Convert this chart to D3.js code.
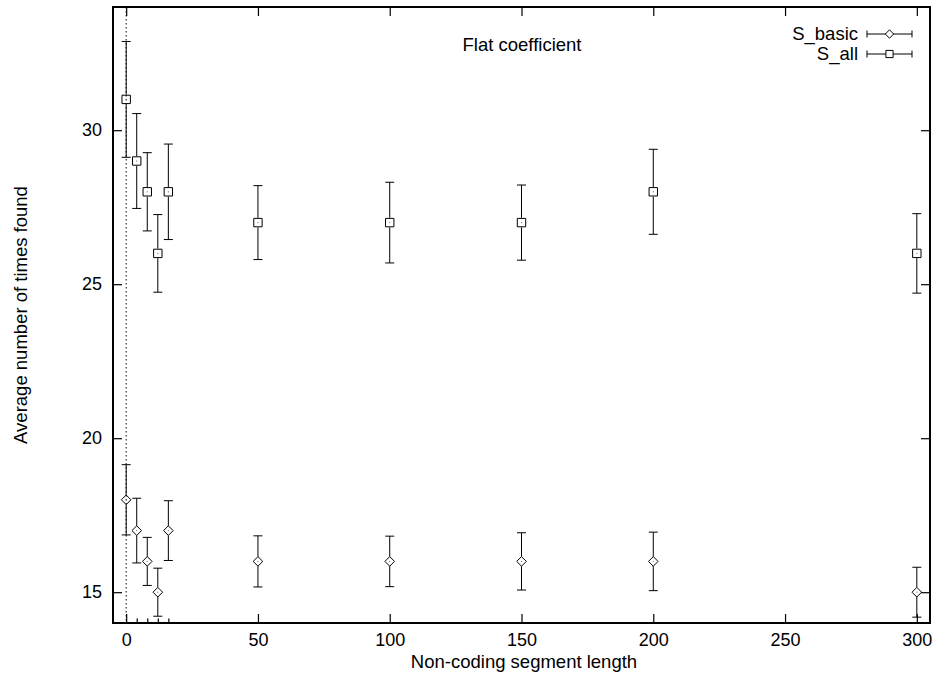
<!DOCTYPE html>
<html>
<head>
<meta charset="utf-8">
<script src="https://cdn.jsdelivr.net/npm/d3@7"></script>
<style>
    body { margin: 0; background: #fff; }
    svg text { font-family: "Liberation Sans", Arial, Helvetica, sans-serif; fill: #000; }
</style>
</head>
<body>
<div id="chart"></div>
<script>
const lengths = [0, 4, 8, 12, 16, 50, 100, 150, 200, 300];
const sBasic = [18, 17, 16, 15, 17, 16, 16, 16, 16, 15];
const sBasicErr = [1.14, 1.05, 0.78, 0.78, 0.97, 0.83, 0.82, 0.93, 0.95, 0.81];
const sAll = [31, 29, 28, 26, 28, 27, 27, 27, 28, 26];
const sAllErr = [1.88, 1.54, 1.27, 1.26, 1.55, 1.2, 1.31, 1.22, 1.38, 1.29];

const xTicks = [0, 50, 100, 150, 200, 250, 300];
const xMinorTicks = [4, 8, 12, 16];
const yTicks = [15, 20, 25, 30];

const width = 935, height = 674;
const margin = {top: 7, right: 5, bottom: 51, left: 113};
const fontSize = 18.5;
const tickFont = 18;

const svg = d3.select("#chart")
    .append("svg")
    .attr("width", width)
    .attr("height", height);

const x = d3.scaleLinear()
    .domain([-5, 305])
    .range([margin.left, width - margin.right]);

const y = d3.scaleLinear()
    .domain([14, 34])
    .range([height - margin.bottom, margin.top]);

const x0 = margin.left, x1 = width - margin.right;
const y0 = height - margin.bottom, y1 = margin.top;

svg.append("clipPath")
    .attr("id", "plot-clip")
    .append("rect")
    .attr("x", x0).attr("y", y1)
    .attr("width", x1 - x0).attr("height", y0 - y1);

// dotted zero line
svg.append("line")
    .attr("x1", x(0)).attr("x2", x(0))
    .attr("y1", y1).attr("y2", y0)
    .attr("stroke", "#000")
    .attr("stroke-width", 1)
    .attr("stroke-dasharray", "1.5,2.5");

// axes, ticks point inward like gnuplot
function styleAxis(g) {
    g.select(".domain").remove();
    g.selectAll(".tick line").attr("stroke", "#000").attr("stroke-width", 1.2);
    g.selectAll(".tick text").attr("font-size", tickFont).attr("fill", "#000");
}

svg.append("g")
    .attr("transform", `translate(0,${y0})`)
    .call(d3.axisBottom(x).tickValues(xTicks).tickSize(-9).tickPadding(10).tickFormat(d3.format("d")))
    .call(styleAxis);

svg.append("g")
    .attr("transform", `translate(0,${y0})`)
    .call(d3.axisBottom(x).tickValues(xMinorTicks).tickSize(-4.5).tickFormat(""))
    .call(styleAxis);

svg.append("g")
    .attr("transform", `translate(0,${y1})`)
    .call(d3.axisTop(x).tickValues(xTicks).tickSize(-9).tickFormat(""))
    .call(styleAxis);

svg.append("g")
    .attr("transform", `translate(${x0},0)`)
    .call(d3.axisLeft(y).tickValues(yTicks).tickSize(-9).tickPadding(11))
    .call(styleAxis);

svg.append("g")
    .attr("transform", `translate(${x1},0)`)
    .call(d3.axisRight(y).tickValues(yTicks).tickSize(-9).tickFormat(""))
    .call(styleAxis);

// frame
svg.append("rect")
    .attr("x", x0).attr("y", y1)
    .attr("width", x1 - x0).attr("height", y0 - y1)
    .attr("fill", "none")
    .attr("stroke", "#000")
    .attr("stroke-width", 2);

const capHalf = 4.5;
const markHalf = 4.8;

const symbols = {
    diamond: (cx, cy, h) => `M${cx},${cy - h}L${cx + h},${cy}L${cx},${cy + h}L${cx - h},${cy}Z`,
    square: (cx, cy, h) => {
        const s = h - 0.6;
        return `M${cx - s},${cy - s}H${cx + s}V${cy + s}H${cx - s}Z`;
    }
};

function drawSeries(values, errs, shape, cls) {
    const data = lengths.map((len, i) => ({len, v: values[i], e: errs[i]}));
    const g = svg.append("g")
        .classed(cls, true)
        .attr("clip-path", "url(#plot-clip)");

    const bars = g.selectAll("g.bar")
        .data(data)
        .join("g")
        .classed("bar", true)
        .attr("stroke", "#000")
        .attr("stroke-width", 1)
        .attr("fill", "none");

    // error bar: two halves, leaving the marker interior empty
    bars.append("line")
        .attr("x1", d => x(d.len)).attr("x2", d => x(d.len))
        .attr("y1", d => y(d.v + d.e)).attr("y2", d => y(d.v) - markHalf);
    bars.append("line")
        .attr("x1", d => x(d.len)).attr("x2", d => x(d.len))
        .attr("y1", d => y(d.v) + markHalf).attr("y2", d => y(d.v - d.e));
    bars.append("line")
        .attr("x1", d => x(d.len) - capHalf).attr("x2", d => x(d.len) + capHalf)
        .attr("y1", d => y(d.v + d.e)).attr("y2", d => y(d.v + d.e));
    bars.append("line")
        .attr("x1", d => x(d.len) - capHalf).attr("x2", d => x(d.len) + capHalf)
        .attr("y1", d => y(d.v - d.e)).attr("y2", d => y(d.v - d.e));

    bars.append("path")
        .attr("d", d => symbols[shape](x(d.len), y(d.v), markHalf));
    bars.append("rect")
        .attr("x", d => x(d.len) - 0.5).attr("y", d => y(d.v) - 0.5)
        .attr("width", 1).attr("height", 1)
        .attr("fill", "#666").attr("stroke", "none");
}

drawSeries(sBasic, sBasicErr, "diamond", "s-basic");
drawSeries(sAll, sAllErr, "square", "s-all");

// title inside the plot
svg.append("text")
    .attr("x", 522)
    .attr("y", 51)
    .attr("text-anchor", "middle")
    .attr("font-size", fontSize)
    .text("Flat coefficient");

// legend
const legendItems = [
    {name: "S_basic", shape: "diamond", cy: 34},
    {name: "S_all", shape: "square", cy: 54}
];
const lx0 = 867, lx1 = 912, lText = 858;

const legend = svg.append("g").classed("legend", true);
legendItems.forEach(item => {
    legend.append("text")
        .attr("x", lText)
        .attr("y", item.cy)
        .attr("dy", "0.35em")
        .attr("text-anchor", "end")
        .attr("font-size", fontSize)
        .text(item.name);
    const s = legend.append("g").attr("stroke", "#000").attr("stroke-width", 1).attr("fill", "none");
    s.append("line").attr("x1", lx0).attr("x2", lx1).attr("y1", item.cy).attr("y2", item.cy);
    s.append("line").attr("x1", lx0).attr("x2", lx0).attr("y1", item.cy - 3.5).attr("y2", item.cy + 3.5);
    s.append("line").attr("x1", lx1).attr("x2", lx1).attr("y1", item.cy - 3.5).attr("y2", item.cy + 3.5);
    s.append("path").attr("fill", "#fff").attr("d", symbols[item.shape]((lx0 + lx1) / 2, item.cy, 4.2));
});

// axis titles
svg.append("text")
    .attr("x", 524)
    .attr("y", 668)
    .attr("text-anchor", "middle")
    .attr("font-size", fontSize)
    .text("Non-coding segment length");

svg.append("text")
    .attr("transform", `translate(27,315) rotate(-90)`)
    .attr("text-anchor", "middle")
    .attr("font-size", fontSize)
    .text("Average number of times found");
</script>
</body>
</html>
